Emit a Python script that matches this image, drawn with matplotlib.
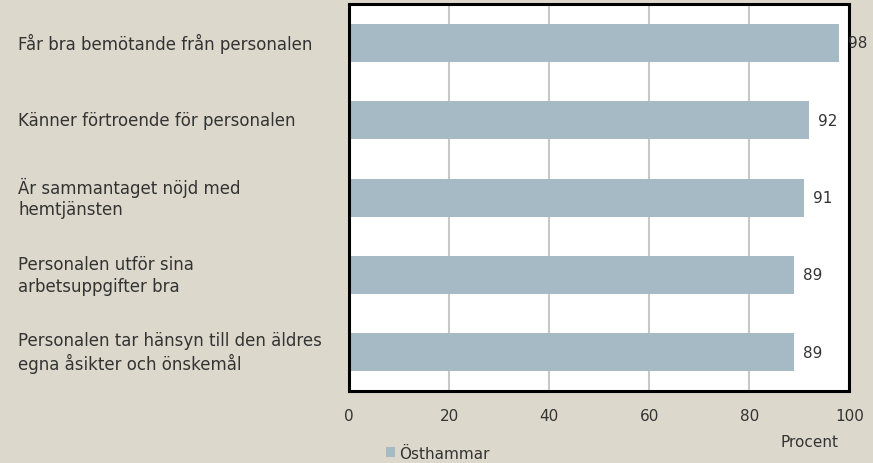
import matplotlib
matplotlib.use('Agg')
import matplotlib.pyplot as plt
from matplotlib.transforms import blended_transform_factory

categories = [
    "Får bra bemötande från personalen",
    "Känner förtroende för personalen",
    "Är sammantaget nöjd med\nhemtjänsten",
    "Personalen utför sina\narbetsuppgifter bra",
    "Personalen tar hänsyn till den äldres\negna åsikter och önskemål",
]
values = [98, 92, 91, 89, 89]
series_name = "Östhammar"
xticks = [0, 20, 40, 60, 80, 100]

BG = "#dcd9cc"
BAR = "#a6bac6"
TXT = "#333333"

plt.rcParams['font.family'] = ['DejaVu Sans']

fig = plt.figure(figsize=(8.73, 4.64), dpi=100, facecolor=BG)
ax = fig.add_axes([0.400, 0.155, 0.573, 0.834])
ax.set_facecolor("white")

y = list(range(len(categories)))
ax.barh(y, values, height=0.49, color=BAR, zorder=2, label=series_name)
ax.set_ylim(len(categories) - 0.5, -0.5)
ax.set_xlim(0, 100)
ax.set_xticks(xticks)
ax.xaxis.grid(True, color="#c8c8c8", linewidth=1.5, zorder=1)
ax.tick_params(axis='x', length=0, pad=12, labelsize=11, colors=TXT)
ax.set_yticks([])
for s in ax.spines.values():
    s.set_linewidth(2.2)
    s.set_color("black")

# value labels just past the bar ends
for yi, v in zip(y, values):
    ax.text(v + 1.8, yi, str(v), va='center', ha='left', fontsize=11,
            color=TXT, clip_on=False)

# category labels left-aligned at the figure edge
trans = blended_transform_factory(fig.transFigure, ax.transData)
for yi, c in zip(y, categories):
    ax.text(18 / 873, yi, c, transform=trans, va='center', ha='left',
            fontsize=12, color=TXT, linespacing=1.25)

fig.text(839 / 873, 1 - 443 / 464, "Procent", fontsize=11, color=TXT,
         ha='right', va='center')

fig.legend(loc='center left', bbox_to_anchor=(372 / 873, 1 - 454 / 464),
           frameon=False, fontsize=11, handlelength=0.6, handleheight=0.6,
           handletextpad=0.3, labelcolor=TXT)

fig.savefig("out.png", dpi=100, facecolor=BG)
